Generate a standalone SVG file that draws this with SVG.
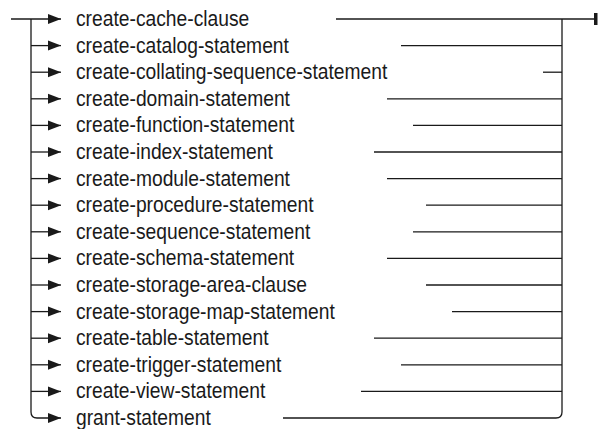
<svg xmlns="http://www.w3.org/2000/svg" width="598" height="429" viewBox="0 0 598 429">
<defs>
<style>
.l{fill:none;stroke:#1a1a1a;stroke-width:1.3}
.t{font-family:"Liberation Sans",Arial,sans-serif;font-size:21.4px;fill:#1a1a1a}
</style>
<marker id="a" markerUnits="userSpaceOnUse" markerWidth="14" markerHeight="12" refX="13" refY="5" orient="auto" viewBox="0 0 14 10">
<path d="M0 0L13 5L0 10z" fill="#1a1a1a"/>
</marker>
</defs>
<rect width="598" height="429" fill="#fff"/>
<g id="connectors">
<path class="l" d="M11 19H61" marker-end="url(#a)"/>
<path class="l" d="M31 19V412Q31 418 37 418H61" marker-end="url(#a)"/>
<path class="l" d="M31 45.6H61" marker-end="url(#a)"/>
<path class="l" d="M31 72.2H61" marker-end="url(#a)"/>
<path class="l" d="M31 98.8H61" marker-end="url(#a)"/>
<path class="l" d="M31 125.4H61" marker-end="url(#a)"/>
<path class="l" d="M31 152H61" marker-end="url(#a)"/>
<path class="l" d="M31 178.6H61" marker-end="url(#a)"/>
<path class="l" d="M31 205.2H61" marker-end="url(#a)"/>
<path class="l" d="M31 231.8H61" marker-end="url(#a)"/>
<path class="l" d="M31 258.4H61" marker-end="url(#a)"/>
<path class="l" d="M31 285H61" marker-end="url(#a)"/>
<path class="l" d="M31 311.6H61" marker-end="url(#a)"/>
<path class="l" d="M31 338.2H61" marker-end="url(#a)"/>
<path class="l" d="M31 364.8H61" marker-end="url(#a)"/>
<path class="l" d="M31 391.4H61" marker-end="url(#a)"/>
<path class="l" d="M336 19H595"/>
<rect x="594" y="13" width="3.5" height="12" fill="#1a1a1a"/>
<path class="l" d="M283 418H556Q562 418 562 412V19"/>
<path class="l" d="M401 45.6H562"/>
<path class="l" d="M543 72.2H562"/>
<path class="l" d="M387 98.8H562"/>
<path class="l" d="M413 125.4H562"/>
<path class="l" d="M374 152H562"/>
<path class="l" d="M387 178.6H562"/>
<path class="l" d="M426 205.2H562"/>
<path class="l" d="M413 231.8H562"/>
<path class="l" d="M387 258.4H562"/>
<path class="l" d="M426 285H562"/>
<path class="l" d="M452 311.6H562"/>
<path class="l" d="M374 338.2H562"/>
<path class="l" d="M401 364.8H562"/>
<path class="l" d="M361 391.4H562"/>
</g>
<g transform="translate(76 0) scale(0.9 1)">
<g id="n1"><text class="t" x="0" y="26">create-cache-clause</text></g>
<g id="n2"><text class="t" x="0" y="52.6">create-catalog-statement</text></g>
<g id="n3"><text class="t" x="0" y="79.2">create-collating-sequence-statement</text></g>
<g id="n4"><text class="t" x="0" y="105.8">create-domain-statement</text></g>
<g id="n5"><text class="t" x="0" y="132.4">create-function-statement</text></g>
<g id="n6"><text class="t" x="0" y="159">create-index-statement</text></g>
<g id="n7"><text class="t" x="0" y="185.6">create-module-statement</text></g>
<g id="n8"><text class="t" x="0" y="212.2">create-procedure-statement</text></g>
<g id="n9"><text class="t" x="0" y="238.8">create-sequence-statement</text></g>
<g id="n10"><text class="t" x="0" y="265.4">create-schema-statement</text></g>
<g id="n11"><text class="t" x="0" y="292">create-storage-area-clause</text></g>
<g id="n12"><text class="t" x="0" y="318.6">create-storage-map-statement</text></g>
<g id="n13"><text class="t" x="0" y="345.2">create-table-statement</text></g>
<g id="n14"><text class="t" x="0" y="371.8">create-trigger-statement</text></g>
<g id="n15"><text class="t" x="0" y="398.4">create-view-statement</text></g>
<g id="n16"><text class="t" x="0" y="425">grant-statement</text></g>
</g>
</svg>
